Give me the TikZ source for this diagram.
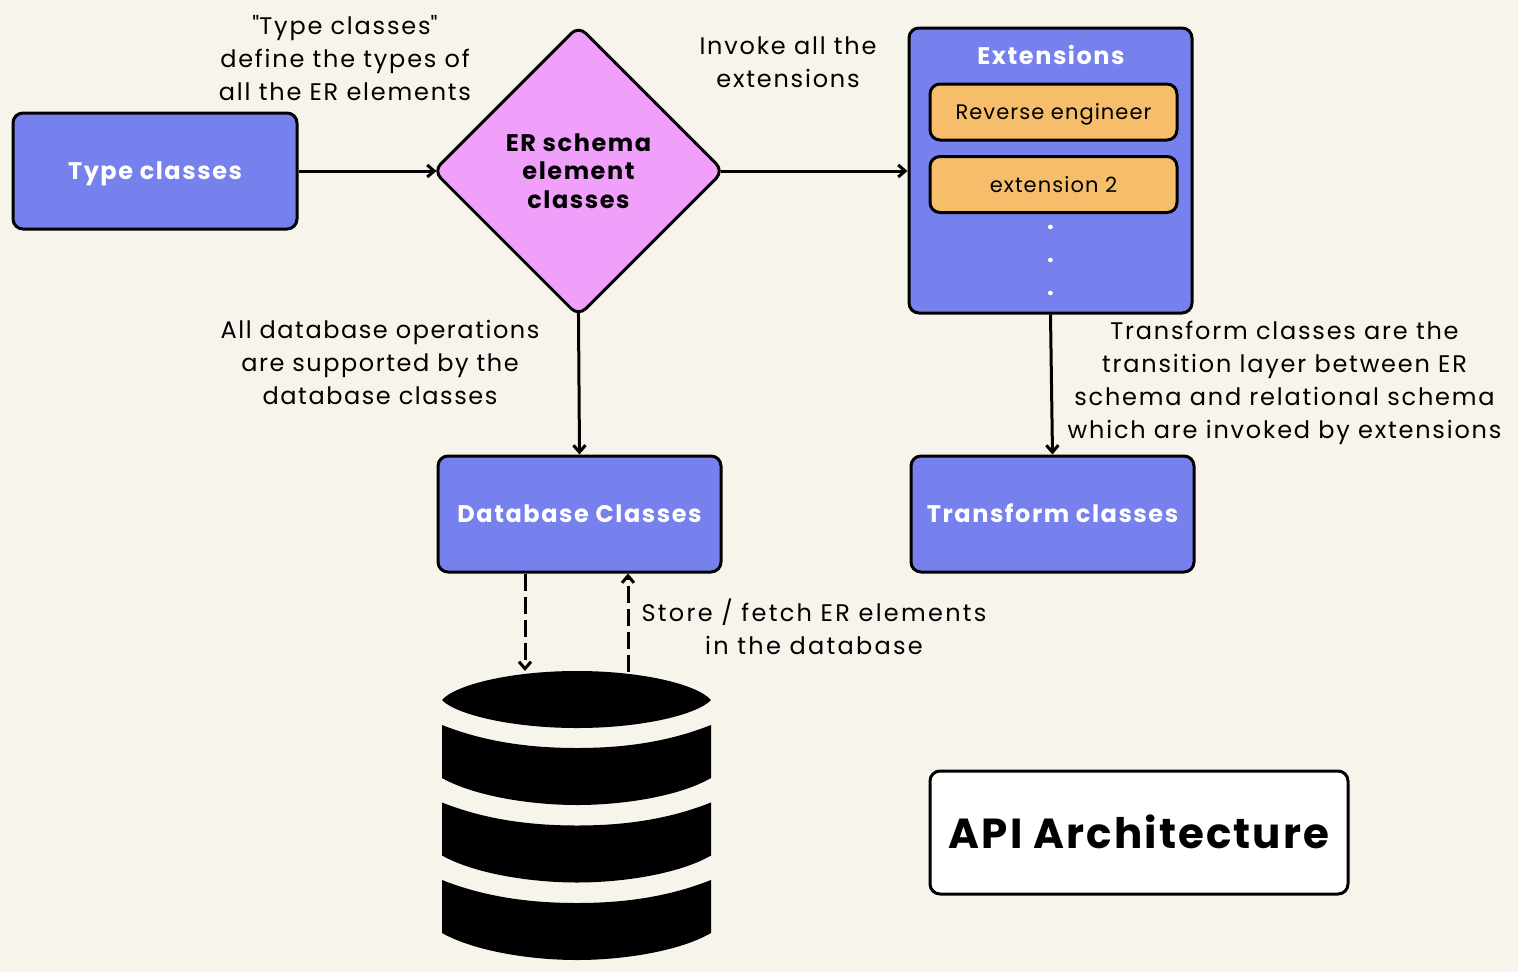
\documentclass[tikz,border=0pt]{standalone}
\usepackage{fontspec}
\setmainfont{Poppins}[LetterSpace=6.5]
\newfontfamily\quotefont{Poppins}[LetterSpace=8]
\usetikzlibrary{arrows.meta}
\usetikzlibrary{shapes.geometric}

\definecolor{paper}{HTML}{F7F4EC}
\definecolor{boxblue}{HTML}{7781EE}
\definecolor{boxpink}{HTML}{F0A0FA}
\definecolor{boxorange}{HTML}{F6BE6A}

\tikzset{
 blackline/.style={draw=black, line width=3pt},
 bluebox/.style={blackline, fill=boxblue, rounded corners=10pt, inner sep=0pt, text=white, text height=17.5pt, text depth=0pt, font=\fontsize{24}{30}\selectfont\bfseries},
 orangebox/.style={blackline, fill=boxorange, rounded corners=10pt, inner sep=0pt, minimum width=247pt, minimum height=56pt, text height=15pt, text depth=0pt, font=\fontsize{21}{28}\selectfont\addfontfeature{LetterSpace=5}},
 note/.style={align=center, inner sep=0pt, font=\fontsize{24}{33}\selectfont\addfontfeature{LetterSpace=#1}},
 note/.default=7.5,
 flow/.style={black, line width=3pt, -{Straight Barb[length=7pt, width=12pt, line width=3pt]}},
 dbband/.style={fill=black, draw=none}
}

\begin{document}
\begin{tikzpicture}[x=1pt, y=-1pt]
\useasboundingbox (0,0) rectangle (1518,972);
\fill[paper] (0,0) rectangle (1518,972);

\node[bluebox, minimum width=284pt, minimum height=116pt] (typecl) at (155,171) {Type classes};
\node[blackline, diamond, aspect=1, fill=boxpink, rounded corners=10pt, inner sep=0pt, minimum width=291pt, minimum height=291pt, align=center, font=\fontsize{24}{28.5}\selectfont\bfseries] (erschema) at (578.5,171) {ER schema\\element\\classes};
\node[bluebox, minimum width=283pt, minimum height=285pt] (extensions) at (1050.5,170.5) {};
\node[text=white, inner sep=0pt, font=\fontsize{24}{30}\selectfont\bfseries] (exttitle) at (1051,55) {Extensions};
\node[orangebox] (reverse) at (1053.5,112) {Reverse engineer};
\node[orangebox] (exttwo) at (1053.5,184.5) {extension 2};
\node[note, text=white, font=\fontsize{24}{33}\selectfont\bfseries] (extdots) at (1050.5,260) {.\\.\\.};
\node[bluebox, minimum width=283pt, minimum height=116pt] (dbclass) at (579.5,514) {Database Classes};
\node[bluebox, minimum width=283pt, minimum height=116pt] (transform) at (1052.5,514) {Transform classes};
\node[blackline, fill=white, rounded corners=10pt, inner sep=0pt, minimum width=418pt, minimum height=123pt, text height=32pt, text depth=0pt, font=\fontsize{42}{50}\selectfont\bfseries\addfontfeature{LetterSpace=5}] (apititle) at (1139,832.5) {API Architecture};

\node[note] (typenote) at (345,58) {{\quotefont"}Type classes{\quotefont"}\\define the types of\\all the ER elements};
\node[note] (invokenote) at (788,62) {Invoke all the\\extensions};
\node[note=6.5] (dbnote) at (380,362) {All database operations\\are supported by the\\database classes};
\node[note] (transnote) at (1284.5,383) {Transform classes are the\\transition layer between ER\\schema and relational schema\\which are invoked by extensions};
\node[note=9.5] (storenote) at (814,626.5) {Store / fetch ER elements\\in the database};

% database drum
\fill[black] (442,700) .. controls (455,685) and (510,671) .. (577,671) .. controls (644,671) and (698,685) .. (711,700) .. controls (698,714) and (644,728) .. (577,728) .. controls (510,728) and (455,714) .. (442,700) -- cycle;
\foreach \y in {725, 802.5, 880}
 \path[dbband] (442,\y) .. controls (485,\y+17) and (530,\y+23) .. (577,\y+23) .. controls (624,\y+23) and (668,\y+17) .. (711,\y) -- (711,\y+53) .. controls (680,\y+71) and (624,\y+80) .. (577,\y+80) .. controls (530,\y+80) and (474,\y+71) .. (442,\y+53) -- cycle;

\coordinate (dbin) at (525,671);
\coordinate (dbout) at (628,672);

\draw[flow, shorten >=-5pt] (typecl.east) -- (erschema.west);
\draw[flow, shorten <=-5pt] (erschema.east) -- (extensions.west |- erschema.east);
\draw[flow, shorten <=-5pt] (erschema.south) -- (dbclass.north);
\draw[flow] (extensions.south) -- (transform.north);
\draw[flow, dashed, dash pattern=on 17pt off 6pt] (dbclass.south -| dbin) -- (dbin);
\draw[flow, dashed, dash pattern=on 17pt off 6pt] (dbout) -- (dbclass.south -| dbout);

\end{tikzpicture}
\end{document}
